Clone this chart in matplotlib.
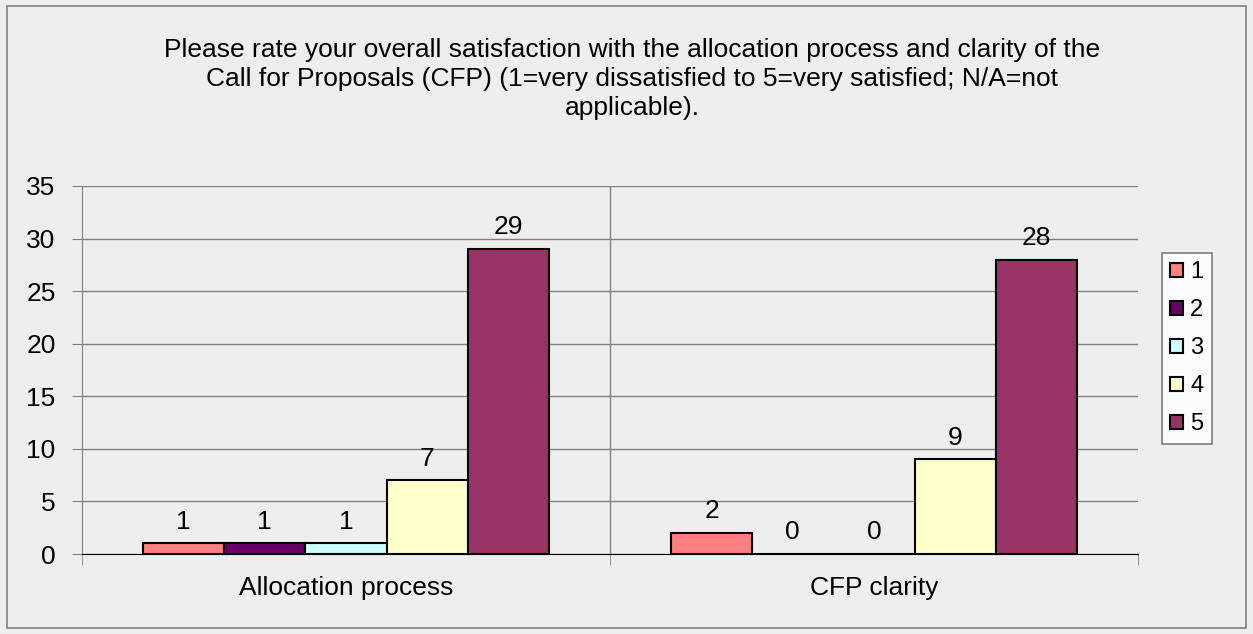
import numpy as np
import matplotlib
matplotlib.use("Agg")
import matplotlib.pyplot as plt
from matplotlib.patches import Rectangle

# ---------- data ----------
categories = ["Allocation process", "CFP clarity"]
series_names = ["1", "2", "3", "4", "5"]
values = {
    "1": [1, 2],
    "2": [1, 0],
    "3": [1, 0],
    "4": [7, 9],
    "5": [29, 28],
}
colors = ["#FF8080", "#660066", "#CCFFFF", "#FFFFCC", "#993366"]
title = ("Please rate your overall satisfaction with the allocation process and clarity of the\n"
         "Call for Proposals (CFP) (1=very dissatisfied to 5=very satisfied; N/A=not\n"
         "applicable).")

plt.rcParams['font.family'] = ['Liberation Sans', 'DejaVu Sans']
bg = "#EEEEEE"

fig = plt.figure(figsize=(12.53, 6.34), dpi=100, facecolor=bg)
fig.patches.append(Rectangle((7 / 1253, 6 / 634), 1239 / 1253, 622 / 634,
                             transform=fig.transFigure, fill=False,
                             edgecolor="#808080", lw=1.2))

ax = fig.add_axes([82 / 1253, 80 / 634, 1056 / 1253, 368 / 634])
ax.set_facecolor(bg)

n = len(series_names)
width = 1 / (n + 1.5)
x = np.arange(len(categories))
for i, (name, c) in enumerate(zip(series_names, colors)):
    pos = x + (i - (n - 1) / 2) * width
    bars = ax.bar(pos, values[name], width, color=c, edgecolor="black",
                  linewidth=1.5, label=name, zorder=3)
    for b, v in zip(bars, values[name]):
        ax.annotate(str(v), (b.get_x() + b.get_width() / 2, v),
                    xytext=(0, 7), textcoords="offset points",
                    ha="center", va="bottom", fontsize=19)

ax.set_xlim(-0.5, len(categories) - 0.5)
ax.set_ylim(0, 35)
ax.set_yticks(range(0, 36, 5))
ax.yaxis.grid(True, color="#808080", lw=1, zorder=0)
ax.axvline(0.5, color="#808080", lw=1, zorder=0)

ax.set_xticks(x)
ax.set_xticklabels(categories, fontsize=19)
ax.set_xticks([-0.5, 0.5, 1.5], minor=True)
ax.tick_params(axis="x", which="major", length=0, pad=16)
ax.tick_params(axis="x", which="minor", length=8, color="#808080")
ax.tick_params(axis="y", labelsize=19, length=7, color="#808080", pad=12)

for s in ["top", "right"]:
    ax.spines[s].set_visible(False)
ax.spines["left"].set_color("#808080")
ax.spines["bottom"].set_color("black")

fig.text(632 / 1253, 1 - 79 / 634, title, ha="center", va="center",
         fontsize=19, linespacing=1.28)

leg = ax.legend(loc="upper left", bbox_to_anchor=(1080 / 1056, 1 - 67 / 368),
                frameon=True, fancybox=False, edgecolor="#606060",
                fontsize=17, handlelength=0.55, handleheight=0.55,
                handletextpad=0.3, labelspacing=0.68, borderpad=0.35,
                borderaxespad=0)
leg.get_frame().set_facecolor("white")
leg.get_frame().set_linewidth(1.2)

fig.savefig("out.png", dpi=100, facecolor=bg)
